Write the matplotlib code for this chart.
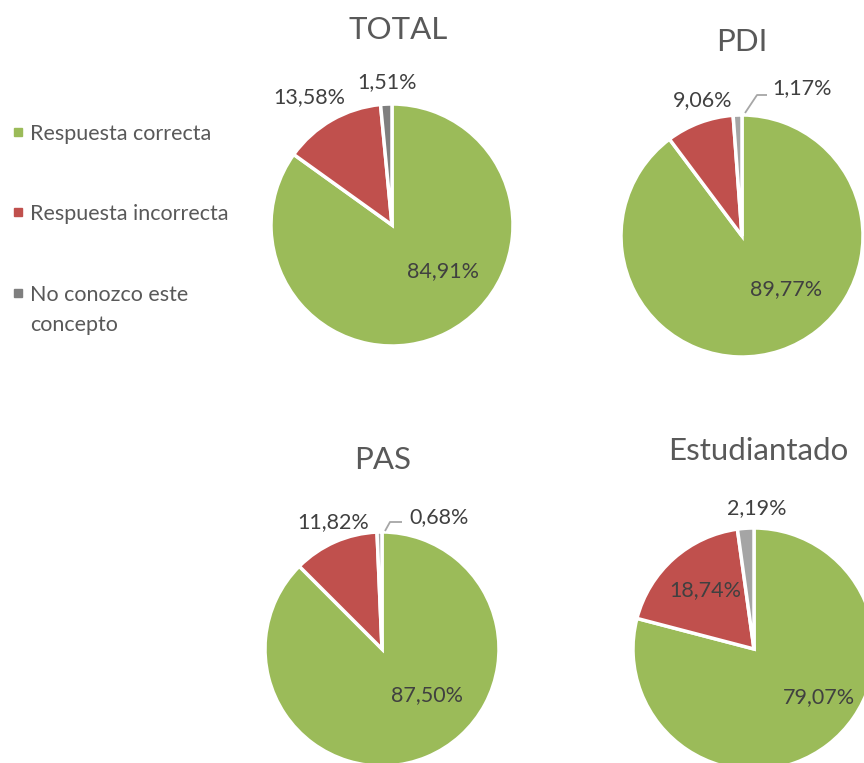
import matplotlib.pyplot as plt

# data
groups = ['TOTAL', 'PDI', 'PAS', 'Estudiantado']
categories = ['Respuesta correcta', 'Respuesta incorrecta', 'No conozco este\nconcepto']
correcta = [84.91, 89.77, 87.50, 79.07]
incorrecta = [13.58, 9.06, 11.82, 18.74]
no_conozco = [1.51, 1.17, 0.68, 2.19]

colors = ['#9bbb59', '#c0504d', '#a5a5a5']
grey_total = '#7f7f7f'

W, H = 864, 763

# layout in pixels (x, y from top)
centers = [(392, 225), (742, 236), (382, 649), (754, 649)]
radii = [121, 121, 117, 121]
titles_xy = [(398, 30), (742, 42), (383, 460), (758, 451)]
# label positions for each slice (correcta, incorrecta, no conozco)
label_xy = [
    [(443, 271), (309, 97), (387, 82)],
    [(786, 289), (703, 100), (802, 88)],
    [(427, 695), (333, 522), (439, 517)],
    [(819, 697), (705, 590), (757, 508)],
]
# leader lines for the tiny slices
leaders = {
    1: [(745, 113), (757, 95), (767, 95)],
    2: [(385, 531), (390, 522), (402, 522)],
}

plt.rcParams['font.family'] = ['Lato', 'DejaVu Sans']

fig = plt.figure(figsize=(W / 100, H / 100), dpi=100)
ax = fig.add_axes([0, 0, 1, 1])


def fmt(v):
    return f'{v:.2f}'.replace('.', ',') + '%'


for i, g in enumerate(groups):
    vals = [correcta[i], incorrecta[i], no_conozco[i]]
    cols = list(colors)
    if i == 0:
        cols[2] = grey_total
    cx, cy = centers[i]
    ax.pie(vals, colors=cols, startangle=90, counterclock=False,
           center=(cx, H - cy), radius=radii[i],
           wedgeprops=dict(edgecolor='white', linewidth=2.5))
    tx, ty = titles_xy[i]
    ax.text(tx, H - ty, g, ha='center', va='center', fontsize=22.5, color='#595959')
    for j, v in enumerate(vals):
        lx, ly = label_xy[i][j]
        ax.text(lx, H - ly, fmt(v), ha='center', va='center', fontsize=15.5, color='#404040')
    if i in leaders:
        pts = leaders[i]
        ax.plot([p[0] for p in pts], [H - p[1] for p in pts], color='#a6a6a6', lw=1.3,
                solid_capstyle='butt')

# legend
leg_y = [132, 212, 293]
legend_cols = ['#9bbb59', '#c0504d', grey_total]
for k, lab in enumerate(categories):
    ax.plot([18], [H - leg_y[k]], marker='s', markersize=5.5, color=legend_cols[k], linestyle='none')
    for n, line in enumerate(lab.split('\n')):
        ax.text(30, H - leg_y[k] - 8 - 30 * n, line, ha='left', va='baseline', fontsize=15.5,
                color='#595959')

ax.set_xlim(0, W)
ax.set_ylim(0, H)
ax.set_aspect('equal')
ax.axis('off')

fig.savefig('out.png', dpi=100)
